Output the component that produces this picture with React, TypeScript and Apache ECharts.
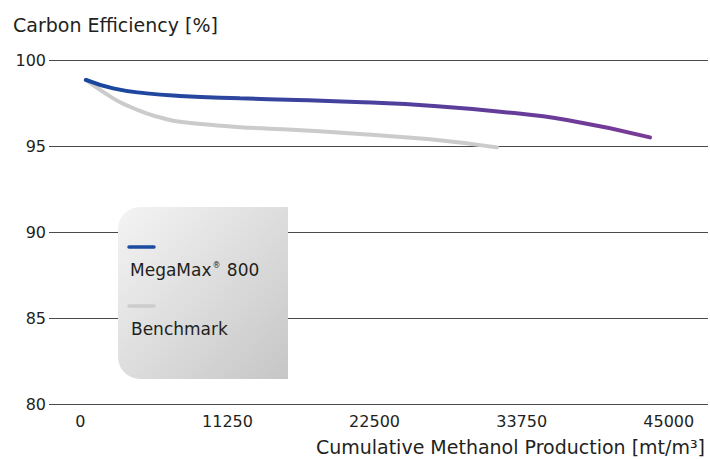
import React, { useEffect, useRef } from "react";
import * as echarts from "echarts";

const seriesNames = ["MegaMax® 800", "Benchmark"];
const megaX = [421, 2510, 5066, 7615, 12207, 16546, 21620, 26748, 32105, 37209, 43561];
const megaY = [98.84, 98.35, 98.06, 97.91, 97.77, 97.67, 97.54, 97.34, 96.99, 96.51, 95.5];
const benchX = [421, 2510, 3788, 5066, 6337, 7615, 10140, 12207, 16546, 21620, 26748, 31852];
const benchY = [98.84, 97.77, 97.28, 96.9, 96.61, 96.41, 96.22, 96.09, 95.93, 95.68, 95.39, 94.92];
const xTicks = [0, 11250, 22500, 33750, 45000];
const yTicks = [80, 85, 90, 95, 100];

const FONT = "DejaVu Sans";
const TXT = "#231f20";

export default function App() {
  const ref = useRef<HTMLDivElement>(null);
  useEffect(() => {
    if (!ref.current) return;
    const chart = echarts.init(ref.current, null, { renderer: "svg" });
    const mega = megaX.map((x, i) => [x, megaY[i]]);
    const bench = benchX.map((x, i) => [x, benchY[i]]);
    chart.setOption({
      animation: false,
      backgroundColor: "#ffffff",
      textStyle: { fontFamily: FONT },
      title: {
        text: "Carbon Efficiency [%]",
        left: 8,
        top: 10,
        padding: 5,
        textStyle: { fontFamily: FONT, fontSize: 19, fontWeight: "normal", color: TXT },
      },
      grid: { left: 49, right: 2, top: 60, bottom: 55, containLabel: false },
      xAxis: {
        type: "value",
        min: -2400,
        max: 48000,
        name: "Cumulative Methanol Production [mt/m³]",
        nameLocation: "end",
        nameGap: -3,
        nameTextStyle: {
          fontFamily: FONT,
          fontSize: 19,
          color: TXT,
          align: "right",
          verticalAlign: "top",
          padding: [33, 0, 0, 0],
        },
        axisLine: { show: false },
        axisTick: { show: false },
        splitLine: { show: false },
        axisLabel: {
          customValues: xTicks,
          formatter: (v: number) => String(v),
          fontFamily: FONT,
          fontSize: 16,
          color: TXT,
          margin: 9,
        },
      },
      yAxis: {
        type: "value",
        min: yTicks[0],
        max: yTicks[yTicks.length - 1],
        interval: 5,
        axisLine: { show: false },
        axisTick: { show: false },
        splitLine: { show: true, lineStyle: { color: "#4a4a4a", width: 1 } },
        axisLabel: { fontFamily: FONT, fontSize: 16, color: TXT, margin: 3 },
      },
      series: [
        {
          name: seriesNames[1],
          type: "line",
          data: bench,
          smooth: true,
          showSymbol: false,
          lineStyle: { color: "#cbcbcb", width: 4, cap: "round" },
          z: 2,
        },
        {
          name: seriesNames[0],
          type: "line",
          data: mega,
          smooth: true,
          showSymbol: false,
          lineStyle: {
            width: 4,
            cap: "round",
            color: new echarts.graphic.LinearGradient(0, 0, 1, 0, [
              { offset: 0, color: "#17479e" },
              { offset: 0.25, color: "#2d469f" },
              { offset: 0.5, color: "#4a409c" },
              { offset: 0.75, color: "#663c9a" },
              { offset: 1, color: "#7a3a97" },
            ]),
          },
          z: 3,
        },
      ],
      graphic: [
        {
          type: "rect",
          z: 10,
          shape: { x: 118, y: 207, width: 170, height: 172, r: [22, 0, 0, 22] },
          style: {
            fill: new echarts.graphic.LinearGradient(0, 0, 1, 1, [
              { offset: 0, color: "#f4f4f4" },
              { offset: 1, color: "#c6c6c6" },
            ]),
          },
        },
        {
          type: "line",
          z: 11,
          shape: { x1: 129, y1: 247, x2: 154, y2: 247 },
          style: { stroke: "#1b4c9f", lineWidth: 3.5, lineCap: "round" },
        },
        {
          type: "text",
          z: 11,
          x: 130,
          y: 270,
          style: {
            text: "MegaMax{sup|®} 800",
            fontFamily: FONT,
            fontSize: 17,
            fill: TXT,
            verticalAlign: "middle",
            rich: { sup: { fontSize: 8, fontFamily: FONT, fill: TXT, verticalAlign: "top", padding: [0, 1, 8, 1] } },
          },
        },
        {
          type: "line",
          z: 11,
          shape: { x1: 129, y1: 306, x2: 154, y2: 306 },
          style: { stroke: "#cccccc", lineWidth: 3.5, lineCap: "round" },
        },
        {
          type: "text",
          z: 11,
          x: 131,
          y: 329,
          style: {
            text: seriesNames[1],
            fontFamily: FONT,
            fontSize: 17,
            fill: TXT,
            verticalAlign: "middle",
          },
        },
      ],
    });
    return () => chart.dispose();
  }, []);
  return (
    <div
      ref={ref}
      style={{ position: "fixed", left: 0, top: 0, width: 710, height: 459 }}
    />
  );
}
